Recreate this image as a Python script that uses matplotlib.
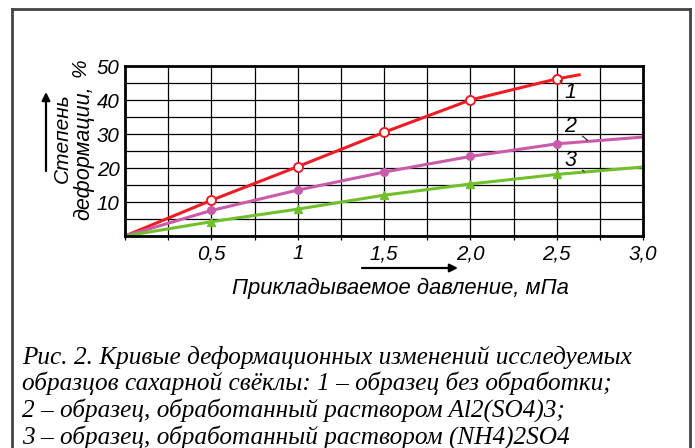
import numpy as np
import matplotlib.pyplot as plt
from matplotlib.lines import Line2D

# pressure, MPa
x_1 = [0.0, 0.5, 1.0, 1.5, 2.0, 2.5, 2.63]
y_1 = [0.0, 10.5, 20.4, 30.5, 40.0, 46.2, 47.4]
x_2 = [0.0, 0.5, 1.0, 1.5, 2.0, 2.5, 3.0]
y_2 = [0.0, 7.5, 13.5, 18.8, 23.4, 27.1, 29.1]
x_3 = [0.0, 0.5, 1.0, 1.5, 2.0, 2.5, 3.0]
y_3 = [0.0, 4.2, 7.9, 12.0, 15.3, 18.1, 20.3]

x_ticks = [0.5, 1.0, 1.5, 2.0, 2.5, 3.0]
x_tick_labels = ['0,5', '1', '1,5', '2,0', '2,5', '3,0']
y_ticks = [10, 20, 30, 40, 50]

caption = ("Рис. 2. Кривые деформационных изменений исследуемых\n"
           "образцов сахарной свёклы: 1 – образец без обработки;\n"
           "2 – образец, обработанный раствором Al2(SO4)3;\n"
           "3 – образец, обработанный раствором (NH4)2SO4")

RED = '#ee1c24'
PINK = '#c95ba8'
GREEN = '#72bf2c'

plt.rcParams['font.family'] = ['Liberation Sans', 'DejaVu Sans']
plt.rcParams['font.style'] = 'italic'

W, H = 695, 448
fig = plt.figure(figsize=(W / 100, H / 100), dpi=100)
ax = fig.add_axes([125 / W, 1 - 236 / H, 518 / W, 170 / H])

# mark points: skip the origin and the open end of curve 1
ax.plot(x_1, y_1, color=RED, lw=2.2, zorder=3)
ax.plot(x_1[1:6], y_1[1:6], 'o', color=RED, mfc='white', mec=RED, ms=6.5, mew=1.4, zorder=4)
ax.plot(x_2, y_2, color=PINK, lw=2.2, zorder=3)
ax.plot(x_2[1:6], y_2[1:6], 'o', color=PINK, ms=5.5, zorder=4)
ax.plot(x_3, y_3, color=GREEN, lw=2.2, zorder=3)
ax.plot(x_3[1:6], y_3[1:6], '^', color=GREEN, ms=5.5, zorder=4)

ax.set_xlim(0, 3.0)
ax.set_ylim(0, 50)
ax.set_xticks(np.arange(0, 3.01, 0.25), minor=True)
ax.set_yticks(np.arange(0, 50.1, 5), minor=True)
ax.set_xticks(x_ticks)
ax.set_xticklabels(x_tick_labels)
ax.set_yticks(y_ticks)
ax.grid(which='both', color='black', lw=0.9, zorder=1)
ax.tick_params(which='both', direction='out', length=3, width=0.9, labelsize=14.8, pad=3)
ax.tick_params(axis='y', which='both', length=0, pad=4)
for s in ax.spines.values():
    s.set_linewidth(2)
    s.set_zorder(5)

lead = dict(arrowstyle='-', color='#333333', lw=0.9, shrinkA=3, shrinkB=0)
ax.annotate('1', xy=(2.52, 45.8), xytext=(2.58, 42.3), fontsize=15.5,
            ha='center', va='center', arrowprops=lead, zorder=6)
ax.annotate('2', xy=(2.68, 28.1), xytext=(2.58, 32.3), fontsize=15.5,
            ha='center', va='center', arrowprops=lead, zorder=6)
ax.annotate('3', xy=(2.66, 18.9), xytext=(2.58, 22.3), fontsize=15.5,
            ha='center', va='center', arrowprops=lead, zorder=6)

# axis titles with arrows
fig.text(400 / W, 1 - 288 / H, 'Прикладываемое давление, мПа', fontsize=15.8,
         ha='center', va='center')
fig.add_artist(plt.Annotation('', xy=(458 / W, 1 - 268 / H), xytext=(362 / W, 1 - 268 / H),
                              xycoords='figure fraction',
                              arrowprops=dict(arrowstyle='-|>', color='black', lw=1.6,
                                              mutation_scale=12, shrinkA=0, shrinkB=0)))
fig.text(62 / W, 1 - 93 / H, 'Степень', fontsize=15, rotation=90,
         ha='center', va='top')
fig.text(83.5 / W, 1 - 85 / H, 'деформации,', fontsize=15.5, rotation=90,
         ha='center', va='top')
fig.text(80 / W, 1 - 68 / H, '%', fontsize=15, rotation=90,
         ha='center', va='center')
fig.add_artist(plt.Annotation('', xy=(46 / W, 1 - 92 / H), xytext=(46 / W, 1 - 171 / H),
                              xycoords='figure fraction',
                              arrowprops=dict(arrowstyle='-|>', color='black', lw=1.6,
                                              mutation_scale=12, shrinkA=0, shrinkB=0)))

fig.text(22 / W, 1 - 346 / H, caption, fontsize=18.2, family='Liberation Serif',
         ha='left', va='top', linespacing=1.15)

# frame around the figure (open at the bottom)
frame = dict(color='#444444', lw=2)
fig.add_artist(Line2D([12 / W, 12 / W], [0, 1 - 9 / H], **frame))
fig.add_artist(Line2D([12 / W, 690 / W], [1 - 9 / H, 1 - 9 / H], **frame))
fig.add_artist(Line2D([690 / W, 690 / W], [1 - 9 / H, 0], **frame))

fig.savefig('out.png', dpi=100)
